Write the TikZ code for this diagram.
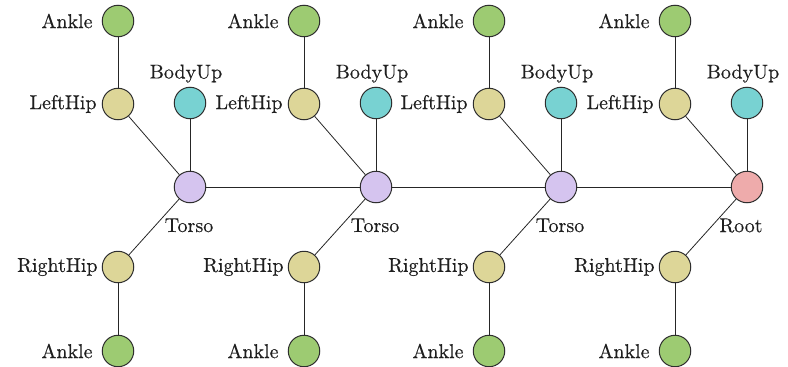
\documentclass[tikz,border=0pt]{standalone}
\usepackage{fontspec}
\newfontfamily\lblfont{lmroman10-regular.otf}[FakeBold=0.4]
\begin{document}
\begin{tikzpicture}[x=1pt,y=-1pt,
  lbl/.style={font=\lblfont\fontsize{20}{23}\selectfont, text=black!88, inner sep=0pt},
  jnt/.style={circle, draw=black!82, line width=1pt, minimum size=31.5pt, inner sep=0pt},
  ankle/.style={jnt, fill=ankleC, label={[lbl,label distance=9pt]left:Ankle}},
  lhip/.style={jnt, fill=hipC, label={[lbl,label distance=5pt]left:LeftHip}},
  rhip/.style={jnt, fill=hipC, label={[lbl,label distance=4pt]left:RightHip}},
  bodyup/.style={jnt, fill=upC, label={[lbl,label distance=4pt,xshift=-4pt]above:BodyUp}},
  torso/.style={jnt, fill=torsoC, label={[lbl,label distance=15pt,xshift=-1pt]below:Torso}},
  root/.style={jnt, fill=rootC, label={[lbl,label distance=15pt,xshift=-6pt]below:Root}},
  edge/.style={draw=black!85, line width=0.8pt}
]
\definecolor{ankleC}{HTML}{9DCB72}
\definecolor{hipC}{HTML}{DDD698}
\definecolor{upC}{HTML}{78D2D2}
\definecolor{torsoC}{HTML}{D5C4EF}
\definecolor{rootC}{HTML}{EEABAB}
\useasboundingbox (0,0) rectangle (788,367);
\foreach \i/\xa/\xb/\typ in {1/118/190/torso, 2/304/376/torso, 3/489/561/torso, 4/675/747/root}{
  \node[ankle] (at\i) at (\xa,21) {};
  \node[lhip] (lh\i) at (\xa,104) {};
  \node[bodyup] (bu\i) at (\xb,103) {};
  \node[\typ] (t\i) at (\xb,187) {};
  \node[rhip] (rh\i) at (\xa,267) {};
  \node[ankle] (ab\i) at (\xa,351) {};
  \draw[edge] (at\i) -- (lh\i);
  \draw[edge] (lh\i) -- (t\i);
  \draw[edge] (bu\i) -- (t\i);
  \draw[edge] (t\i) -- (rh\i);
  \draw[edge] (rh\i) -- (ab\i);
}
\draw[edge] (t1) -- (t2);
\draw[edge] (t2) -- (t3);
\draw[edge] (t3) -- (t4);
\end{tikzpicture}
\end{document}
